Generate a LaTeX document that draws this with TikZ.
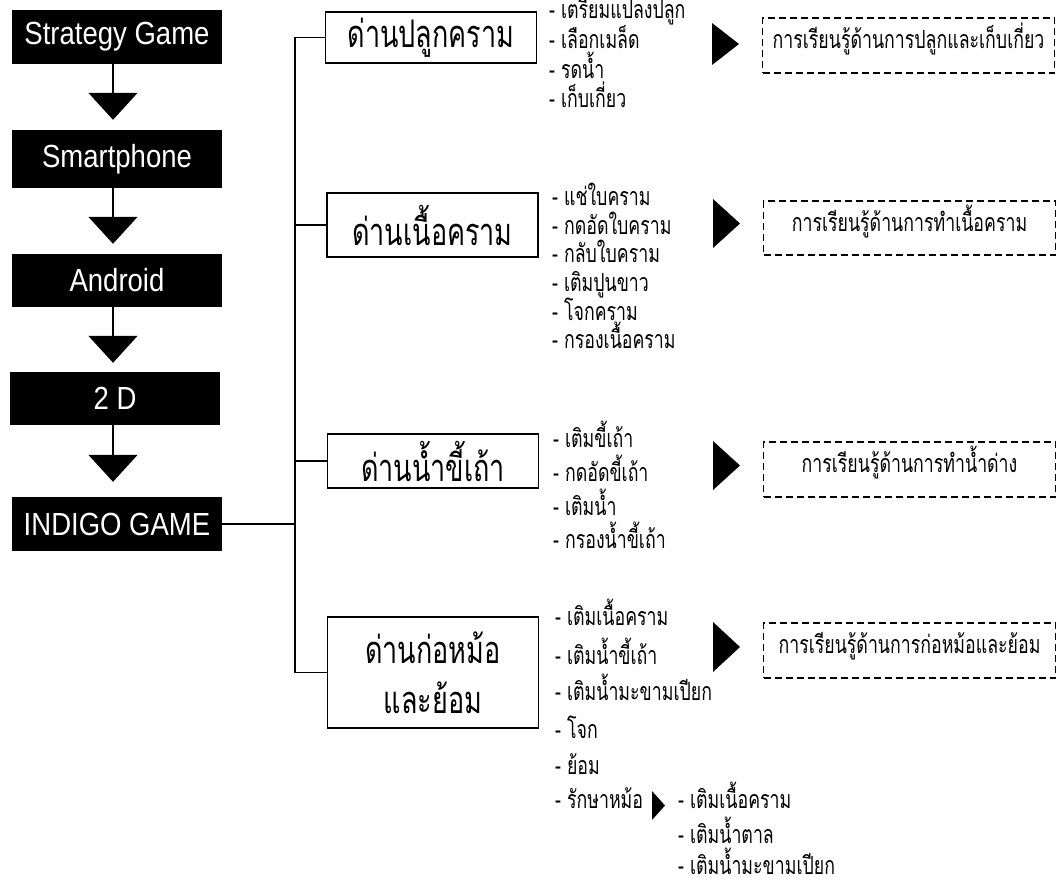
\documentclass[tikz,border=0pt]{standalone}
\usepackage{fontspec}
\setmainfont[FakeStretch=0.86]{Liberation Sans}
\newfontfamily\thai[Script=Thai,FakeStretch=0.71]{Loma}
\usetikzlibrary{arrows.meta}
\begin{document}
\begin{tikzpicture}[x=1pt,y=-1pt,
  blk/.style={fill=black,text=white,minimum width=210pt,inner sep=0pt,font=\fontsize{32}{36}\selectfont},
  flow/.style={line width=1.5pt,-{Triangle[width=49pt,length=27pt]}},
  stage/.style={draw,line width=1.5pt,minimum width=211pt,inner sep=0pt,align=center,font=\thai\fontsize{38}{50}\selectfont},
  item/.style={anchor=west,inner sep=0pt,text height=0.82em,text depth=0.1em,font=\thai\fontsize{25}{28}\selectfont},
  learn/.style={draw,dashed,dash pattern=on 7pt off 4pt,line width=1.8pt,minimum width=292pt,minimum height=55pt,inner sep=0pt,text height=0.75em,text depth=0.1em,font=\thai\fontsize{25}{28}\selectfont},
  tree/.style={line width=1.5pt}
]
\useasboundingbox (0,0) rectangle (1057,890);
% left column
\node[blk,minimum height=54pt] (sg) at (117,37) {Strategy Game};
\node[blk,minimum height=58pt] (sp) at (117,159) {Smartphone};
\node[blk,minimum height=53pt] (an) at (117,280.5) {Android};
\node[blk,minimum height=53pt] (dd) at (115,398.5) {2 D};
\node[blk,minimum height=54pt] (ig) at (117,524) {INDIGO GAME};
\coordinate (ax) at (113,0);
\draw[flow,shorten >=10pt] (sg.south -| ax) -- (sp.north -| ax);
\draw[flow,shorten >=10pt] (sp.south -| ax) -- (an.north -| ax);
\draw[flow,shorten >=9pt] (an.south -| ax) -- (dd.north -| ax);
\draw[flow,shorten >=15pt] (dd.south -| ax) -- (ig.north -| ax);
% stages
\node[stage,minimum height=51pt] (b1) at (431,37.5) {ด่านปลูกคราม};
\node[stage,minimum height=64pt] (b2) at (432.5,225) {ด่านเนื้อคราม};
\node[stage,minimum height=54pt] (b3) at (433,461) {ด่านน้ำขี้เถ้า};
\node[stage,minimum height=111pt] (b4) at (433,672.5) {ด่านก่อหม้อ\\และย้อม};
\coordinate (tr) at (295,0);
\draw[tree] (b1.west) -- (b1.west -| tr) -- (b4.west -| tr) -- (b4.west);
\draw[tree] (b2.west) -- (b2.west -| tr);
\draw[tree] (b3.west) -- (b3.west -| tr);
\draw[tree] (ig.east) -- (ig.east -| tr);
% items group 1
\node[item] (i11) at (549,15) {- เตรียมแปลงปลูก};
\node[item] (i12) at (549,45) {- เลือกเมล็ด};
\node[item] (i13) at (549,75) {- รดน้ำ};
\node[item] (i14) at (549,104) {- เก็บเกี่ยว};
% group 2
\node[item] (i21) at (552,202) {- แช่ใบคราม};
\node[item] (i22) at (552,231) {- กดอัดใบคราม};
\node[item] (i23) at (552,259) {- กลับใบคราม};
\node[item] (i24) at (552,288) {- เติมปูนขาว};
\node[item] (i25) at (552,317) {- โจกคราม};
\node[item] (i26) at (552,345) {- กรองเนื้อคราม};
% group 3
\node[item] (i31) at (553,444) {- เติมขี้เถ้า};
\node[item] (i32) at (553,478) {- กดอัดขี้เถ้า};
\node[item] (i33) at (553,512) {- เติมน้ำ};
\node[item] (i34) at (553,545) {- กรองน้ำขี้เถ้า};
% group 4
\node[item] (i41) at (555,622) {- เติมเนื้อคราม};
\node[item] (i42) at (555,661) {- เติมน้ำขี้เถ้า};
\node[item] (i43) at (555,697) {- เติมน้ำมะขามเปียก};
\node[item] (i44) at (555,735) {- โจก};
\node[item] (i45) at (555,771) {- ย้อม};
\node[item] (i46) at (555,805) {- รักษาหม้อ};
\node[item] (j1) at (678,805) {- เติมเนื้อคราม};
\node[item] (j2) at (678,840) {- เติมน้ำตาล};
\node[item] (j3) at (678,871) {- เติมน้ำมะขามเปียก};
% triangles
\fill (712,23) -- (739,44) -- (712,65) -- cycle;
\fill (713,199) -- (740,223.5) -- (713,248) -- cycle;
\fill (713,441) -- (740,465.5) -- (713,490) -- cycle;
\fill (713,622) -- (740,647) -- (713,672) -- cycle;
\fill (652,791) -- (665,805.5) -- (652,820) -- cycle;
% learning boxes
\node[learn] (l1) at (908.5,45.5) {การเรียนรู้ด้านการปลูกและเก็บเกี่ยว};
\node[learn,minimum height=54pt] (l2) at (909.5,228) {การเรียนรู้ด้านการทำเนื้อคราม};
\node[learn] (l3) at (909.5,469.5) {การเรียนรู้ด้านการทำน้ำด่าง};
\node[learn] (l4) at (909.5,650.5) {การเรียนรู้ด้านการก่อหม้อและย้อม};
\end{tikzpicture}
\end{document}
